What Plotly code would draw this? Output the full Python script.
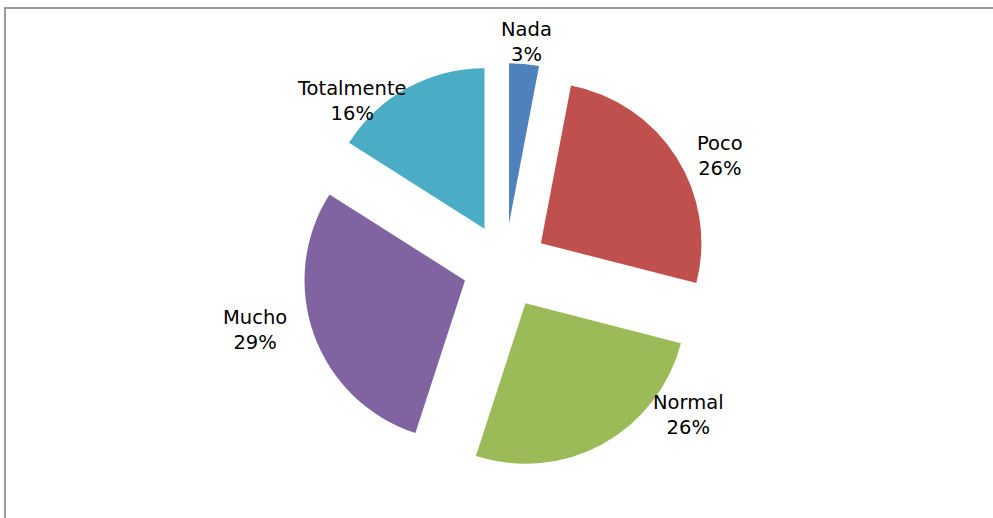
import plotly.graph_objects as go

# ---- data ----
categories = ["Nada", "Poco", "Normal", "Mucho", "Totalmente"]
values = [3, 26, 26, 29, 16]
colors = ["#4F81BD", "#C0504D", "#9BBB59", "#8064A2", "#4BACC6"]

# ---- label placement (pixel centers in the 993x518 canvas) ----
W, H = 993, 518
label_px = [(526, 42), (720, 156), (688, 415), (255, 330), (352, 101)]

# pie box: center (505, 266) px, half-size 203 px
cx, cy, half = 505, 266, 203
dom_x = [(cx - 1.9 * half) / W, (cx + 1.9 * half) / W]
dom_y = [1 - (cy + half) / H, 1 - (cy - half) / H]

fig = go.Figure()
fig.add_trace(go.Pie(
    labels=categories,
    values=values,
    sort=False,
    direction="clockwise",
    rotation=0,
    pull=[0.265] * len(values),
    marker=dict(colors=colors, line=dict(width=0)),
    textinfo="none",
    hoverinfo="label+percent",
    showlegend=False,
    domain=dict(x=dom_x, y=dom_y),
))

annotations = []
for cat, val, (px, py) in zip(categories, values, label_px):
    annotations.append(dict(
        x=px / W, y=1 - py / H, xref="paper", yref="paper",
        text=f"{cat}<br>{val}%", showarrow=False,
        xanchor="center", yanchor="middle", align="center",
        font=dict(family="DejaVu Sans", size=19.5, color="#000000"),
    ))

fig.update_layout(
    width=W, height=H,
    margin=dict(l=0, r=0, t=0, b=0),
    paper_bgcolor="white", plot_bgcolor="white",
    annotations=annotations,
    shapes=[dict(
        type="rect", xref="paper", yref="paper",
        x0=5 / W, x1=1.2, y0=-0.2, y1=1 - 8 / H,
        line=dict(color="#9a9a9a", width=2), fillcolor="rgba(0,0,0,0)",
        layer="below",
    )],
)

fig.write_html(
    "out.html",
    config={"displayModeBar": False},
    post_script="document.body.style.margin='0';document.body.style.overflow='hidden';",
)
